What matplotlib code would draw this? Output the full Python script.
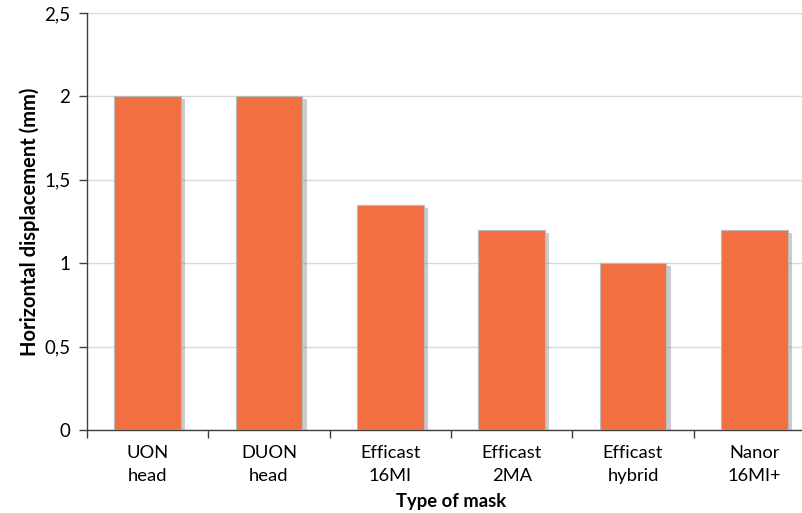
import numpy as np
import matplotlib.pyplot as plt
import matplotlib.patheffects as pe
from matplotlib.ticker import FuncFormatter, FixedLocator

plt.rcParams['font.family'] = ['Lato', 'DejaVu Sans']

# --- data ---
masks = ["UON\nhead", "DUON\nhead", "Efficast\n16MI", "Efficast\n2MA", "Efficast\nhybrid", "Nanor\n16MI+"]
displacement = [2.0, 2.0, 1.35, 1.2, 1.0, 1.2]
y_ticks = [0, 0.5, 1, 1.5, 2, 2.5]

fig = plt.figure(figsize=(8.03, 5.13), dpi=100)
ax = fig.add_axes([87/803, 83/513, 728/803, 417/513])

x = np.arange(len(masks))
bars = ax.bar(x, displacement, width=0.55, color='#F26F41', edgecolor='#B9B9B9',
              linewidth=0.8, zorder=3)
for b in bars:
    b.set_path_effects([pe.SimplePatchShadow(offset=(3, -2), alpha=0.3, shadow_rgbFace='#555555'),
                        pe.Normal()])

ax.set_xlim(-0.5, len(masks) - 0.5)
ax.set_ylim(0, 2.5)
ax.set_yticks(y_ticks)
ax.yaxis.set_major_formatter(FuncFormatter(lambda v, p: f"{v:g}".replace('.', ',')))
ax.grid(axis='y', color='#D9D9D9', linewidth=1, zorder=0)

ax.set_xticks(x)
ax.set_xticklabels(masks, fontsize=13.2, linespacing=1.55)
ax.xaxis.set_minor_locator(FixedLocator(np.arange(len(masks) + 1) - 0.5))
ax.tick_params(axis='x', which='major', length=0, pad=11)
ax.tick_params(axis='x', which='minor', length=6, width=1, color='#404040')
ax.tick_params(axis='y', length=6, width=1, color='#404040', labelsize=13.5, pad=6)

for s in ['top', 'right']:
    ax.spines[s].set_visible(False)
for s in ['left', 'bottom']:
    ax.spines[s].set_color('#404040')
    ax.spines[s].set_linewidth(1)

ax.set_ylabel('Horizontal displacement (mm)', fontsize=14.5, fontweight='bold', labelpad=3)
ax.set_xlabel('Type of mask', fontsize=13.2, fontweight='bold', labelpad=6)

fig.savefig('out.png', dpi=100)
